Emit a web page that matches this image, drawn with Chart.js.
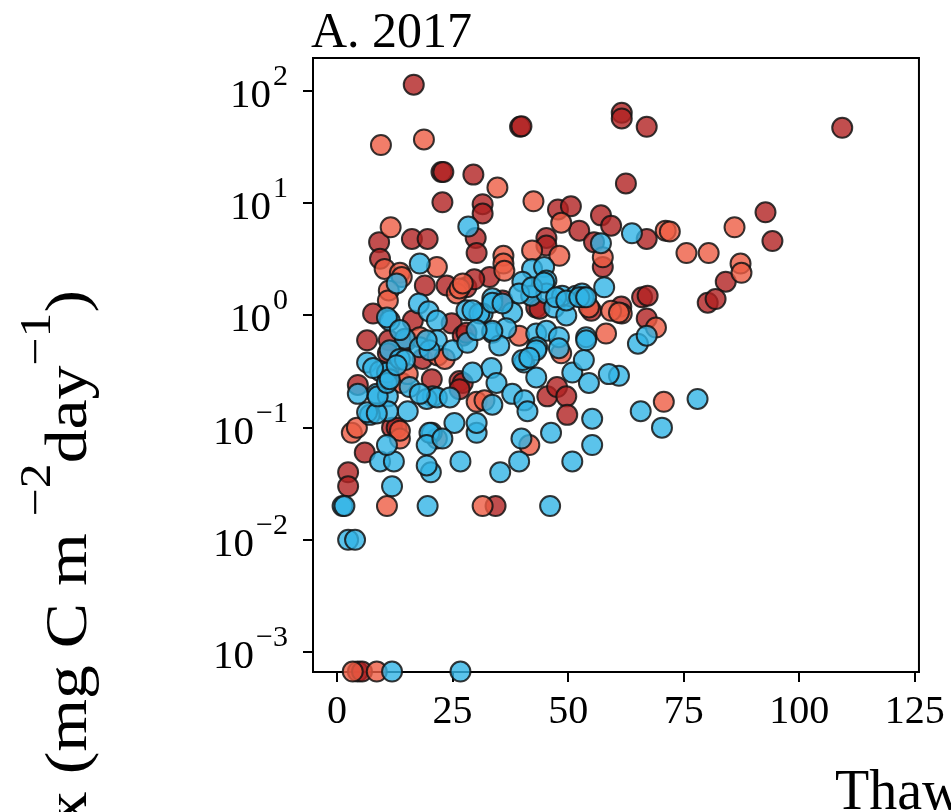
<!DOCTYPE html>
<html>
<head>
<meta charset="utf-8">
<script src="https://cdn.jsdelivr.net/npm/chart.js@4.4.1/dist/chart.umd.min.js"></script>
<style>
  html, body { margin: 0; padding: 0; background: #fff; overflow: hidden; }
  canvas { display: block; }
</style>
</head>
<body>
<canvas id="fluxChart" width="951" height="812"></canvas>
<script>
// axis ticks
var xTicks = [0, 25, 50, 75, 100, 125];
var yTicks = [1e-3, 1e-2, 1e-1, 1e0, 1e1, 1e2];
var yExponents = ['\u22123', '\u22122', '\u22121', '0', '1', '2'];

// thaw depth (x) and flux (y), one pair of lists per group
var blueDepth = [28.4, 63.8, 57.1, 17.9, 42.2, 44.8, 65.1, 67.0, 61.0, 65.7, 78.0, 70.3,
  26.7, 50.9, 39.4, 35.3, 20.3, 19.4, 9.3, 12.3, 11.9, 1.2, 1.6, 19.6, 46.1, 2.4, 3.9,
  11.9, 26.7, 12.9, 17.7, 19.8, 11.4, 21.6, 28.0, 14.7, 21.6, 45.3, 40.1, 57.8, 42.0,
  45.3, 48.7, 51.7, 53.0, 33.6, 31.5, 37.9, 47.0, 49.6, 53.4, 33.6, 36.6, 43.1, 45.3,
  48.0, 53.9, 43.3, 48.0, 6.5, 9.3, 10.8, 8.6, 11.0, 20.7, 19.4, 15.3, 11.0, 7.1, 10.8,
  20.5, 25.4, 17.9, 20.0, 11.4, 13.6, 7.8, 33.4, 34.5, 40.5, 29.3, 33.6, 37.9, 40.5,
  41.2, 43.1, 50.9, 54.5, 58.8, 53.4, 55.2, 46.3, 39.9, 30.2, 30.2, 55.2, 35.1, 43.1,
  53.9, 40.1, 41.6, 39.4, 42.2, 44.8, 47.4, 49.6, 52.4, 53.9, 10.8, 13.6, 30.8, 29.3,
  33.6, 33.6, 35.8, 6.5, 8.6, 4.5, 8.8, 10.8, 11.4, 15.7, 21.6, 17.9, 24.4, 19.4, 14.7,
  12.9, 25.0, 28.2, 30.2, 20.0, 19.4, 22.8];
var blueFlux = [6.2, 5.4, 4.4, 2.9, 2.6, 2.7, 0.56, 0.66, 0.29, 0.14, 0.18, 0.1,
  0.05, 0.05, 0.05, 0.04, 0.04, 0.046, 0.05, 0.05, 0.03, 0.02, 0.02, 0.02, 0.02, 0.01, 0.01,
  0.00067, 0.00067, 1.93, 1.28, 1.09, 0.9, 0.9, 1.11, 0.62, 0.6, 2.05, 2.0, 1.78, 1.5,
  1.57, 1.5, 1.5, 1.57, 1.42, 1.04, 1.06, 1.18, 1.0, 1.45, 0.7, 0.77, 0.69, 0.73,
  0.64, 0.64, 0.52, 0.51, 0.38, 0.32, 0.31, 0.2, 0.19, 0.19, 0.18, 0.14, 0.14, 0.13, 0.07,
  0.09, 0.11, 0.52, 0.49, 0.49, 0.41, 0.34, 0.34, 0.25, 0.38, 0.31, 0.16, 0.2, 0.175,
  0.14, 0.28, 0.31, 0.25, 0.3, 0.4, 0.12, 0.09, 0.08, 0.09, 0.11, 0.07, 0.54, 0.49,
  0.6, 0.4, 0.42, 1.57, 1.78, 1.97, 1.45, 1.36, 1.45, 1.45, 0.96, 0.74, 1.04, 1.11,
  0.73, 1.3, 1.28, 0.137, 0.134, 0.2, 0.19, 0.25, 0.27, 0.23, 0.186, 0.2, 0.186, 0.6, 0.4,
  0.36, 0.49, 0.57, 0.74, 0.09, 0.07, 0.08];

var salmonDepth = [9.5, 18.8, 34.7, 42.5, 48.5, 11.6, 36.0, 36.0, 36.2, 42.2, 48.1, 57.5,
  21.6, 86.0, 71.1, 72.0, 75.6, 80.4, 87.3, 87.5, 61.6, 69.0, 70.7, 10.8, 31.5, 3.4, 8.6,
  10.3, 13.6, 14.0, 11.2, 11.0, 25.9, 26.5, 17.9, 27.2, 54.5, 59.3, 61.0, 39.4, 58.2,
  14.0, 21.8, 23.3, 3.2, 4.3, 13.6, 13.6, 15.3, 30.2, 31.9, 48.5, 41.6, 21.6];
var salmonFlux = [33, 37, 13.8, 10.4, 6.7, 6.1, 3.4, 2.9, 2.5, 3.8, 3.4, 3.3,
  2.7, 6.1, 5.7, 5.6, 3.6, 3.6, 2.9, 2.4, 1.04, 0.78, 0.17, 0.02, 0.02, 0.00067, 0.00067,
  2.6, 2.4, 2.2, 1.67, 1.36, 1.57, 1.74, 0.64, 1.93, 1.18, 1.1, 1.06, 0.66, 0.69,
  0.25, 0.44, 0.41, 0.09, 0.1, 0.08, 0.094, 0.3, 0.17, 0.175, 0.46, 0.07, 0.08];

var redDepth = [16.6, 39.6, 39.9, 61.6, 61.6, 67.0, 109.3, 62.5, 22.6, 23.0, 29.5, 22.8,
  31.5, 31.5, 47.8, 50.6, 52.4, 57.1, 59.3, 30.0, 30.2, 9.1, 9.3, 16.2, 19.6, 45.3, 45.3,
  55.6, 57.5, 92.7, 94.2, 67.0, 84.1, 80.2, 81.9, 66.0, 67.2, 67.0, 2.4, 2.4, 34.3, 4.5,
  5.4, 19.0, 23.7, 28.0, 7.8, 16.4, 24.8, 6.5, 11.2, 27.2, 33.0, 29.7, 35.8, 43.1, 43.8,
  55.0, 4.5, 11.0, 20.5, 26.5, 11.9, 12.9, 6.0, 27.2, 45.5, 47.6, 49.6, 49.8, 11.0, 18.5,
  15.1, 28.0, 61.5, 26.5];
var redFlux = [114, 48, 48.5, 64, 57, 48, 47, 15, 19, 19, 18, 10.2,
  9.8, 8.1, 8.8, 9.4, 5.7, 7.8, 6.3, 4.9, 3.6, 4.5, 3.2, 4.8, 4.8, 4.9, 4.2,
  4.5, 2.7, 8.3, 4.6, 4.8, 2.0, 1.3, 1.4, 1.45, 1.5, 0.94, 0.04, 0.03, 0.02, 0.00067,
  0.00067, 1.85, 1.85, 1.78, 1.04, 0.9, 0.85, 0.6, 0.6, 0.66, 2.2, 2.1, 1.36, 1.18, 1.15,
  1.1, 0.24, 0.28, 0.27, 0.26, 0.1, 0.1, 0.06, 0.25, 0.19, 0.23, 0.19, 0.13, 0.46, 0.41,
  0.6, 0.7, 1.2, 0.22];

function toPoints(xs, ys) {
  return xs.map(function (x, i) { return { x: x, y: ys[i] }; });
}

var serif = "'Liberation Serif', 'Times New Roman', serif";

// frame, title, y tick labels with exponents and axis titles
var decorations = {
  id: 'decorations',
  beforeDatasetsDraw: function (chart) {
    var ctx = chart.ctx, a = chart.chartArea;
    ctx.save();
    ctx.strokeStyle = '#000';
    ctx.lineWidth = 2;
    ctx.strokeRect(a.left, a.top, a.right - a.left, a.bottom - a.top);
    ctx.restore();
  },
  afterDraw: function (chart) {
    var ctx = chart.ctx, a = chart.chartArea, ys = chart.scales.y;
    ctx.save();
    ctx.fillStyle = '#000';

    // title
    ctx.font = '50px ' + serif;
    ctx.textAlign = 'left';
    ctx.textBaseline = 'alphabetic';
    ctx.fillText('A. 2017', a.left - 2, 47);

    // y tick labels 10^n
    var rightEdge = a.left - 25;
    yTicks.forEach(function (v, i) {
      var py = ys.getPixelForValue(v);
      ctx.font = '30px ' + serif;
      var supW = ctx.measureText(yExponents[i]).width;
      ctx.textAlign = 'right';
      ctx.fillText(yExponents[i], rightEdge, py - 6);
      ctx.font = '41px ' + serif;
      ctx.fillText('10', rightEdge - supW - 2, py + 16);
    });

    // x axis title (cut at the right edge)
    ctx.font = '56px ' + serif;
    ctx.textAlign = 'left';
    ctx.fillText('Thaw', 835, 809);

    // y axis title, rotated, drawn from its top end downward
    ctx.translate(86, 290);
    ctx.rotate(-Math.PI / 2);
    ctx.scale(1.13, 1);
    ctx.textAlign = 'right';
    var pieces = [
      [')', 60, 0], ['\u22121', 44, 36], ['day', 60, 0], ['\u22122', 44, 36],
      ['x (mg C m ', 60, 0]
    ];
    var pos = 0;
    pieces.forEach(function (p) {
      ctx.font = p[1] + 'px ' + serif;
      ctx.fillText(p[0], pos, -p[2]);
      pos -= ctx.measureText(p[0]).width;
    });
    ctx.restore();
  }
};

var pointStyle = {
  pointRadius: 10,
  pointHoverRadius: 10,
  borderWidth: 2,
  borderColor: 'rgba(20,20,20,0.85)',
  clip: false,
  showLine: false
};

new Chart(document.getElementById('fluxChart'), {
  type: 'scatter',
  data: {
    datasets: [
      Object.assign({ label: 'blue', data: toPoints(blueDepth, blueFlux),
        backgroundColor: 'rgba(50,180,230,0.8)' }, pointStyle),
      Object.assign({ label: 'salmon', data: toPoints(salmonDepth, salmonFlux),
        backgroundColor: 'rgba(237,92,68,0.8)' }, pointStyle),
      Object.assign({ label: 'darkred', data: toPoints(redDepth, redFlux),
        backgroundColor: 'rgba(178,34,34,0.8)' }, pointStyle)
    ]
  },
  options: {
    responsive: false,
    animation: false,
    layout: { padding: { top: 58, right: 30, left: 0, bottom: 0 } },
    plugins: { legend: { display: false }, tooltip: { enabled: false }, title: { display: false } },
    scales: {
      x: {
        type: 'linear',
        min: -5.2,
        max: 125.9,
        afterBuildTicks: function (s) { s.ticks = xTicks.map(function (v) { return { value: v }; }); },
        afterFit: function (s) { s.height = 140; },
        grid: { display: true, drawOnChartArea: false, drawTicks: true, tickLength: 10, color: '#000', lineWidth: 2 },
        border: { display: true, color: '#000', width: 2 },
        ticks: { color: '#000', font: { family: serif, size: 40 }, padding: 6, maxRotation: 0 }
      },
      y: {
        type: 'logarithmic',
        min: 6.64e-4,
        max: 197,
        afterBuildTicks: function (s) { s.ticks = yTicks.map(function (v) { return { value: v }; }); },
        afterFit: function (s) { s.width = 313; },
        grid: { display: true, drawOnChartArea: false, drawTicks: true, tickLength: 10, color: '#000', lineWidth: 2 },
        border: { display: true, color: '#000', width: 2 },
        ticks: { display: false }
      }
    }
  },
  plugins: [decorations]
});
</script>
</body>
</html>
